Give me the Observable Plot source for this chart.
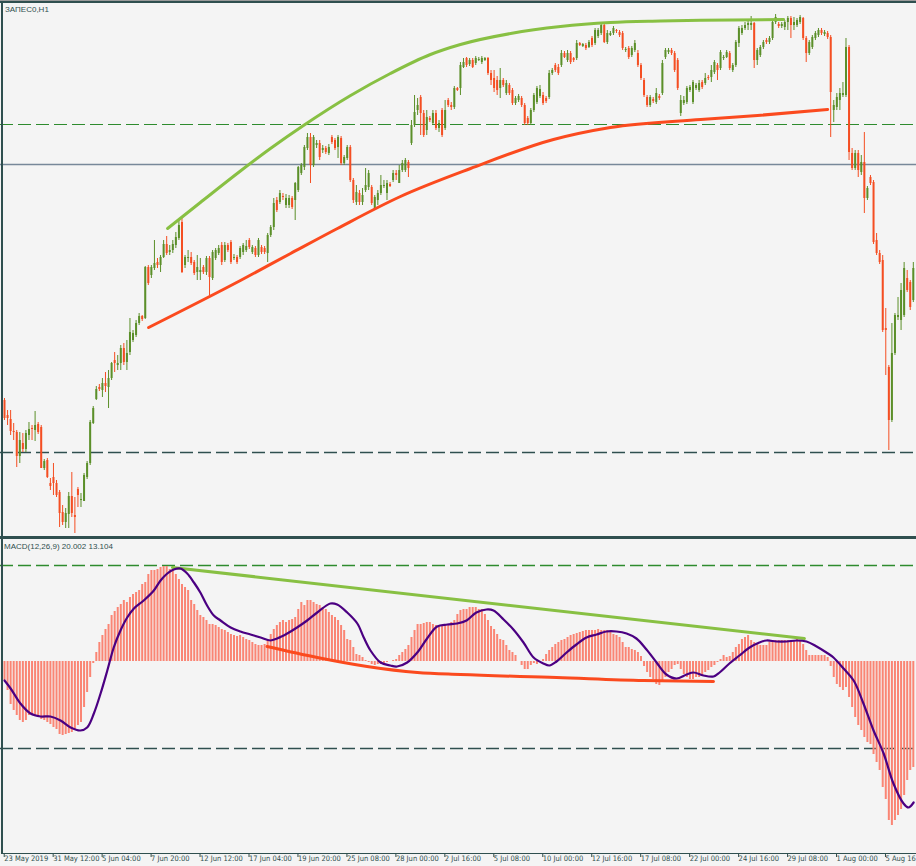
<!DOCTYPE html>
<html><head><meta charset="utf-8">
<script src="https://cdn.jsdelivr.net/npm/d3@7"></script>
<script src="https://cdn.jsdelivr.net/npm/@observablehq/plot@0.6"></script>
<style>
html,body{margin:0;padding:0;background:#f4f4f4;overflow:hidden;}
#wrap{position:relative;width:916px;height:866px;background:#f4f4f4;overflow:hidden;font-family:"Liberation Sans",Arial,sans-serif;}
#wrap svg{position:absolute;left:0;}
.line{position:absolute;}
.lbl{position:absolute;font-size:8px;line-height:8px;color:#2f4f4f;white-space:nowrap;}
</style></head>
<body><div id="wrap"></div>
<script>
// ---------- DATA ----------
const chartTitle = "ЗАПЕС0,H1";
const macdTitle = "MACD(12,26,9) 20.002 13.104";

const candleOpen = [2640,2625,2621,2609,2608,2584,2597,2591,2605,2612,
2610,2616,2613,2572,2580,2557,2563,2557,2548,2528,
2518,2526,2544,2525,2551,2540,2539,2563,2577,2617,
2641,2653,2650,2657,2653,2662,2680,2675,2677,2692,
2678,2688,2700,2705,2717,2724,2722,2773,2765,2772,
2778,2775,2783,2796,2788,2790,2795,2802,2818,2775,
2782,2783,2778,2768,2768,2773,2768,2782,2762,2782,
2787,2795,2780,2795,2798,2782,2783,2783,2788,2790,
2800,2788,2792,2785,2793,2792,2787,2805,2813,2840,
2838,2844,2835,2835,2842,2840,2850,2867,2873,2892,
2903,2875,2895,2897,2890,2892,2887,2903,2900,2893,
2902,2877,2882,2893,2860,2838,2847,2838,2850,2853,
2853,2830,2840,2847,2854,2847,2856,2860,2867,2857,
2870,2870,2878,2897,2915,2930,2943,2927,2910,2922,
2917,2927,2912,2930,2912,2940,2935,2933,2952,2952,
2973,2982,2976,2980,2977,2980,2978,2980,2982,2967,
2962,2960,2952,2960,2947,2955,2950,2937,2940,2942,
2935,2922,2917,2930,2938,2944,2945,2942,2943,2967,
2975,2973,2975,2987,2980,2987,2982,2982,2997,2994,
2995,2993,3002,2997,3004,3007,3015,2998,3005,3007,
3010,3008,3007,2990,2992,2985,2990,2987,2975,2960,
2943,2935,2941,2938,2944,2947,2983,2988,2990,2987,
2980,2927,2937,2938,2950,2938,2952,2950,2958,2957,
2963,2963,2968,2975,2972,2982,2983,2987,2970,2975,
2997,3007,3012,3015,3015,3017,2980,2985,2993,3000,
2998,3002,3018,3016,3014,3013,3018,3022,3015,3015,
3018,3022,3002,2987,2993,3002,3005,3010,3006,3007,
3003,2930,2933,2940,2945,2945,2993,2887,2872,2887,
2868,2878,2842,2863,2858,2800,2787,2780,2712,2673,
2620,2687,2723,2720,2725,2762,2758,2740];

const candleHigh = [2642,2630,2630,2617,2610,2608,2607,2610,2618,2615,
2629,2618,2615,2581,2582,2562,2577,2560,2550,2535,
2532,2548,2568,2543,2553,2547,2567,2579,2620,2634,
2654,2656,2662,2668,2670,2678,2688,2685,2695,2697,
2700,2722,2710,2720,2727,2725,2774,2775,2775,2800,
2782,2785,2800,2804,2795,2800,2808,2820,2822,2785,
2790,2788,2780,2785,2782,2775,2784,2784,2790,2792,
2795,2798,2798,2797,2800,2786,2785,2794,2797,2800,
2802,2795,2794,2802,2795,2794,2807,2815,2842,2843,
2850,2847,2846,2845,2844,2858,2874,2877,2895,2907,
2907,2905,2900,2900,2895,2894,2896,2905,2902,2905,
2904,2885,2895,2895,2862,2855,2850,2852,2872,2870,
2855,2845,2850,2865,2860,2860,2858,2870,2870,2875,
2880,2882,2880,2920,2945,2942,2945,2930,2930,2924,
2930,2930,2920,2932,2940,2942,2938,2954,2953,2978,
2982,2983,2982,2982,2984,2983,2984,2983,2983,2970,
2970,2964,2972,2962,2960,2957,2952,2944,2946,2944,
2937,2924,2932,2947,2954,2955,2948,2944,2970,2972,
2977,2976,2990,2989,2990,2989,2983,3000,2998,2997,
2997,3000,3004,3012,3012,3018,3018,3010,3009,3014,
3011,3010,3009,2993,2994,2994,3000,2990,2977,2962,
2945,2945,2943,2952,2946,2980,2992,2992,2992,2989,
2982,2945,2944,2954,2955,2960,2957,2960,2960,2967,
2965,2975,2980,2977,2990,2985,2990,2989,2977,3000,
3014,3015,3018,3020,3024,3018,2992,2995,3000,3002,
3004,3020,3026,3018,3018,3020,3024,3024,3023,3022,
3025,3023,3004,3000,3005,3009,3012,3012,3010,3009,
3005,2940,2947,2952,2958,3002,2995,2892,2890,2890,
2885,2908,2854,2865,2860,2807,2790,2785,2732,2675,
2717,2727,2743,2757,2778,2770,2760,2778];

const candleLow = [2620,2615,2605,2600,2573,2577,2588,2588,2600,2600,
2599,2606,2572,2570,2562,2550,2545,2543,2513,2515,
2512,2512,2523,2507,2533,2533,2539,2561,2575,2616,
2640,2649,2643,2648,2632,2660,2668,2670,2670,2675,
2670,2685,2698,2703,2715,2719,2721,2755,2762,2770,
2772,2768,2782,2785,2785,2787,2792,2800,2767,2772,
2778,2775,2765,2760,2760,2766,2765,2745,2760,2780,
2785,2775,2778,2788,2776,2780,2776,2781,2785,2788,
2791,2786,2783,2783,2786,2786,2778,2803,2810,2828,
2836,2840,2832,2832,2831,2820,2848,2865,2870,2890,
2857,2873,2892,2880,2887,2886,2885,2896,2890,2882,
2875,2875,2880,2858,2837,2835,2835,2835,2848,2850,
2835,2830,2835,2845,2852,2840,2853,2858,2860,2857,
2868,2868,2863,2895,2913,2925,2905,2903,2905,2918,
2915,2910,2908,2903,2910,2933,2930,2931,2949,2945,
2972,2973,2974,2972,2975,2979,2976,2979,2965,2955,
2948,2945,2942,2953,2945,2945,2935,2935,2938,2933,
2915,2915,2915,2928,2936,2942,2935,2937,2941,2965,
2968,2965,2973,2982,2978,2976,2978,2980,2994,2993,
2990,2992,2993,2995,3002,3005,2997,2996,3004,3005,
3007,3003,2990,2988,2981,2983,2988,2973,2960,2943,
2933,2933,2937,2936,2940,2945,2981,2986,2985,2968,
2950,2924,2935,2936,2948,2936,2950,2948,2951,2955,
2960,2958,2966,2960,2970,2980,2982,2970,2968,2973,
2993,3005,3010,3010,3010,2972,2975,2983,2991,2996,
2996,3000,3016,3012,3012,3010,3010,3002,3010,3013,
3016,3000,2978,2985,2991,3000,3003,3005,3004,3001,
2903,2918,2930,2930,2943,2943,2880,2870,2870,2863,
2865,2827,2840,2855,2796,2785,2776,2708,2665,2590,
2618,2685,2720,2710,2723,2748,2730,2738];

const candleClose = [2622,2622,2609,2608,2584,2600,2591,2607,2611,2611,
2615,2608,2572,2579,2563,2554,2557,2545,2527,2518,
2527,2544,2527,2523,2545,2541,2565,2577,2618,2632,
2651,2651,2657,2654,2662,2677,2677,2677,2692,2678,
2687,2708,2707,2717,2724,2721,2773,2757,2773,2777,
2775,2783,2796,2787,2790,2796,2803,2815,2768,2783,
2783,2777,2767,2773,2770,2768,2782,2763,2788,2790,
2792,2778,2795,2790,2778,2783,2778,2792,2795,2794,
2793,2793,2785,2800,2788,2788,2805,2813,2837,2830,
2847,2843,2842,2842,2833,2857,2873,2875,2893,2903,
2875,2903,2897,2883,2892,2888,2893,2898,2892,2903,
2877,2883,2893,2860,2840,2848,2838,2845,2855,2867,
2837,2843,2847,2855,2855,2857,2854,2867,2865,2870,
2877,2880,2872,2915,2928,2935,2927,2905,2923,2920,
2927,2912,2917,2905,2930,2935,2933,2952,2950,2975,
2978,2975,2980,2973,2982,2981,2982,2982,2967,2960,
2952,2950,2960,2955,2957,2947,2937,2942,2944,2935,
2917,2917,2930,2945,2952,2951,2937,2939,2967,2970,
2970,2967,2987,2983,2987,2978,2980,2997,2995,2996,
2992,2998,2995,3010,3010,3015,2998,3007,3007,3012,
3009,3005,2992,2991,2983,2992,2997,2975,2962,2945,
2935,2943,2939,2947,2942,2977,2990,2990,2987,2970,
2952,2940,2940,2952,2953,2958,2955,2957,2953,2962,
2962,2970,2978,2970,2988,2983,2988,2972,2975,2998,
3012,3012,3015,3017,3017,2980,2990,2993,2998,2998,
3002,3018,3023,3014,3016,3018,3022,3015,3018,3020,
3023,3002,2987,2998,3003,3007,3010,3007,3008,3003,
2948,2935,2943,2947,2947,2993,2888,2872,2887,2870,
2878,2842,2852,2857,2798,2787,2778,2710,2710,2620,
2687,2725,2725,2750,2772,2750,2733,2772];

// horizontal price levels
const levelDashGreen = [2916];
const levelSolid = [2876];
const levelDashDark = [2588];

// hand-drawn trend lines on price (bar index, price)
const greenTrendBar = [53.3,64,77.1,86.9,97.7,113.1,126.1,139.2,149,165.4,181.7,198,214.4,227.5,254.6];
const greenTrendVal = [2812,2838,2869.5,2892,2915,2945,2967,2986,2996,3007,3014,3018,3019.5,3020.3,3021];
const redTrendBar = [47.1,77.1,93.5,108.8,129.4,152.3,179.4,198,227.5,246.1,269];
const redTrendVal = [2713,2760,2787,2812,2844,2872,2901,2913,2921,2925,2931];

// MACD histogram (main line) per bar
const macdHist = [-19,-29,-43,-49,-54,-59,-61,-59,-54,-53,
-54,-56,-58,-59,-61,-63,-66,-68,-73,-74,
-73,-72,-71,-68,-64,-61,-46,-31,-16,-2,
9,19,26,32,37,46,50,54,57,61,
59,64,67,69,71,77,79,87,91,91,
92,94,95,95,92,91,87,82,77,74,
71,61,57,51,46,44,41,37,37,36,
34,32,31,29,27,26,25,26,24,22,
21,19,17,16,16,17,21,27,32,36,
39,41,39,41,42,44,52,59,56,61,
61,59,57,56,54,52,49,46,44,41,
36,31,22,21,14,7,6,4,1,-1,
-3,-4,-3,-3,-2,-1,0,1,2,6,
9,12,16,24,31,37,37,38,39,39,
37,36,34,36,37,37,39,41,47,
51,52,52,54,54,54,52,52,47,41,
35,32,27,22,21,16,11,9,6,0,
-4,-8,-8,-4,-2,-3,-1,2,7,11,
14,17,19,21,22,24,26,27,28,29,
30,31,31,31,31,32,31,31,31,29,
27,26,24,19,14,14,12,11,9,5,
-5,-11,-16,-18,-23,-24,-21,-16,-11,-8,
-4,-3,-8,-13,-16,-18,-18,-16,-16,-14,
-11,-9,-6,-4,-1,2,6,4,5,9,
14,17,22,24,26,21,19,17,16,16,
16,19,21,21,21,21,21,21,21,21,
22,21,17,11,6,6,6,6,6,6,
4,-5,-16,-23,-26,-29,-26,-36,-46,-56,
-64,-69,-76,-81,-83,-93,-101,-109,-126,-138,
-159,-164,-159,-154,-148,-134,-119,-109,-106];

// MACD signal line (bar index, value)
const signalBar = [0,2,5.2,8.5,11.8,15,18.3,21.6,24.8,27,29.2,31.4,33.6,35.7,37.9,40.1,42.3,45.5,48.8,51,53.2,55.3,57.5,59.7,61.9,64,66.2,68.4,70.6,73.9,77.1,80.4,83.7,86.9,89.1,92.4,95.6,98.9,102.2,106.5,108.7,112,115.3,117.4,119.6,122.9,126.1,128.3,131.6,134.9,138.1,141.4,144.7,147.9,
151,154.2,157.5,159.8,163.1,166.3,169.6,172.9,176.1,178.1,180.4,183.7,186.9,190.2,193.5,196.7,200,203.3,206.5,209.8,213.1,216.3,219.6,222.9,225.2,228.4,231.7,233.7,236.9,240.2,243.5,246.7,249,252.3,255.6,258.8,262.1,265.4,268.6,270.9,274.2,277.5,280.7,284,287.3,290.5,293.8,295.4,297.1];
const signalVal = [-19,-27,-42,-52,-55,-55,-59,-66,-69,-66,-52,-32,-9,14,31,44,53,61,71,81,88,92,93,88,79,69,56,46,41,34,30,27,24,21,23,28,34,41,49,58,57,49,38,24,11,-1,-4,-5,-1,9,23,35,37,38,
41,49,52,51,42,32,19,4,-2,-4,0,9,17,24,27,30,30,28,23,12,-1,-13,-17,-13,-11,-14,-15,-11,-2,6,14,19,21,20,20,21,20,15,9,4,-7,-19,-42,-69,-92,-122,-142,-146,-141];

// MACD levels and trend lines
const macdLevelTop = [96];
const macdLevelBottom = [-87];
const macdGreenBar = [54.9,261.4];
const macdGreenVal = [94,23];
const macdRedBar = [85.8,102.2,118.5,134.9,149,180.4,208.8,231.7];
const macdRedVal = [15,4,-5,-11,-13,-16,-19,-20];

// time axis
const tickBars = [0,16,32,48,64,80,96,112,128,144,160,176,192,208,224,240,256,272,288];
const tickLabels = ["23 May 2019","31 May 12:00","5 Jun 04:00","7 Jun 20:00","12 Jun 12:00","17 Jun 04:00","19 Jun 20:00","25 Jun 08:00","28 Jun 00:00","2 Jul 16:00","5 Jul 08:00","10 Jul 00:00","12 Jul 16:00","17 Jul 08:00","22 Jul 00:00","24 Jul 16:00","29 Jul 08:00","1 Aug 00:00","5 Aug 16:00"];

// ---------- BUILD ----------
const BULL = "#5b8f29", BEAR = "#f44e22";
const candles = candleOpen.map((o, i) => ({
  i, open: o, high: candleHigh[i], low: candleLow[i], close: candleClose[i],
  col: candleClose[i] >= o ? BULL : BEAR
}));
const greenTrend = greenTrendBar.map((b, k) => ({b, v: greenTrendVal[k]}));
const redTrend = redTrendBar.map((b, k) => ({b, v: redTrendVal[k]}));
const hist = macdHist.map((v, i) => ({i, v}));
const signal = signalBar.map((b, k) => ({b, v: signalVal[k]}));
const macdGreen = macdGreenBar.map((b, k) => ({b, v: macdGreenVal[k]}));
const macdRed = macdRedBar.map((b, k) => ({b, v: macdRedVal[k]}));
const tickPos = tickBars.map(b => b - 0.75);

const xDomain = [-1.307, 298.04];
const wrap = document.getElementById("wrap");
const narrow = "'Liberation Sans Narrow', 'DejaVu Sans Condensed', 'Liberation Sans', Arial, sans-serif";
const baseStyle = {fontFamily: "'Liberation Sans', Arial, sans-serif", fontSize: "8px", background: "transparent", color: "#2f4f4f", overflow: "visible"};

const upper = Plot.plot({
  width: 916, height: 536, margin: 0,
  x: {domain: xDomain, axis: null},
  y: {domain: [2504, 3040], axis: null},
  style: baseStyle,
  marks: [
    Plot.ruleY(levelDashGreen, {stroke: "#2e8b2e", strokeWidth: 1, strokeDasharray: "13,5"}),
    Plot.ruleY(levelSolid, {stroke: "#778899", strokeWidth: 1.5}),
    Plot.ruleY(levelDashDark, {stroke: "#2f4f4f", strokeWidth: 1.5, strokeDasharray: "13,5"}),
    Plot.ruleX(candles, {x: "i", y1: "low", y2: "high", stroke: "col", strokeWidth: 1}),
    Plot.ruleX(candles, {x: "i", y1: "open", y2: "close", stroke: "col", strokeWidth: 2}),
    Plot.line(greenTrend, {x: "b", y: "v", stroke: "#88c043", strokeWidth: 3, curve: "monotone-x"}),
    Plot.line(redTrend, {x: "b", y: "v", stroke: "#fb4a1e", strokeWidth: 3, curve: "monotone-x"})
  ]
});
upper.style.top = "0px";
wrap.appendChild(upper);

const lower = Plot.plot({
  width: 916, height: 327, marginTop: 0, marginLeft: 0, marginRight: 0, marginBottom: 13,
  x: {domain: xDomain},
  y: {domain: [-192, 122], axis: null},
  style: {...baseStyle, fontFamily: narrow, fontSize: "7.5px"},
  marks: [
    Plot.ruleY(macdLevelTop, {stroke: "#2e8b2e", strokeWidth: 1.5, strokeDasharray: "13,5"}),
    Plot.ruleY(macdLevelBottom, {stroke: "#2f4f4f", strokeWidth: 1.5, strokeDasharray: "13,5"}),
    Plot.ruleX(hist, {x: "i", y1: 0, y2: "v", stroke: "#fa8574", strokeWidth: 2}),
    Plot.line(macdGreen, {x: "b", y: "v", stroke: "#88c043", strokeWidth: 3}),
    Plot.line(macdRed, {x: "b", y: "v", stroke: "#fb4a1e", strokeWidth: 3, curve: "monotone-x"}),
    Plot.line(signal, {x: "b", y: "v", stroke: "#4b0082", strokeWidth: 2.2, curve: "catmull-rom"}),
    Plot.axisX(tickPos, {
      anchor: "bottom", tickSize: 4, tickPadding: -2, textAnchor: "start", dx: 2,
      tickFormat: d => tickLabels[tickPos.indexOf(d)], fontSize: 7.5, stroke: "#2f4f4f", fill: "#2f4f4f"
    })
  ]
});
lower.style.top = "539px";
wrap.appendChild(lower);

// frame lines (chart window borders)
function bar(css) { const d = document.createElement("div"); d.className = "line"; Object.assign(d.style, css); wrap.appendChild(d); }
bar({left: "0px", top: "0px", width: "916px", height: "1px", background: "#9a9a9a"});
bar({left: "0px", top: "1px", width: "916px", height: "2px", background: "#2f4f4f"});
bar({left: "1px", top: "1px", width: "2px", height: "853px", background: "#2f4f4f"});
bar({left: "0px", top: "536px", width: "916px", height: "3px", background: "#2f4f4f"});
bar({left: "1px", top: "853px", width: "915px", height: "1px", background: "#2f4f4f"});

function label(text, left, top) { const d = document.createElement("div"); d.className = "lbl"; d.textContent = text; d.style.left = left + "px"; d.style.top = top + "px"; wrap.appendChild(d); }
label(chartTitle, 5, 6);
label(macdTitle, 4, 543);
</script></body></html>
